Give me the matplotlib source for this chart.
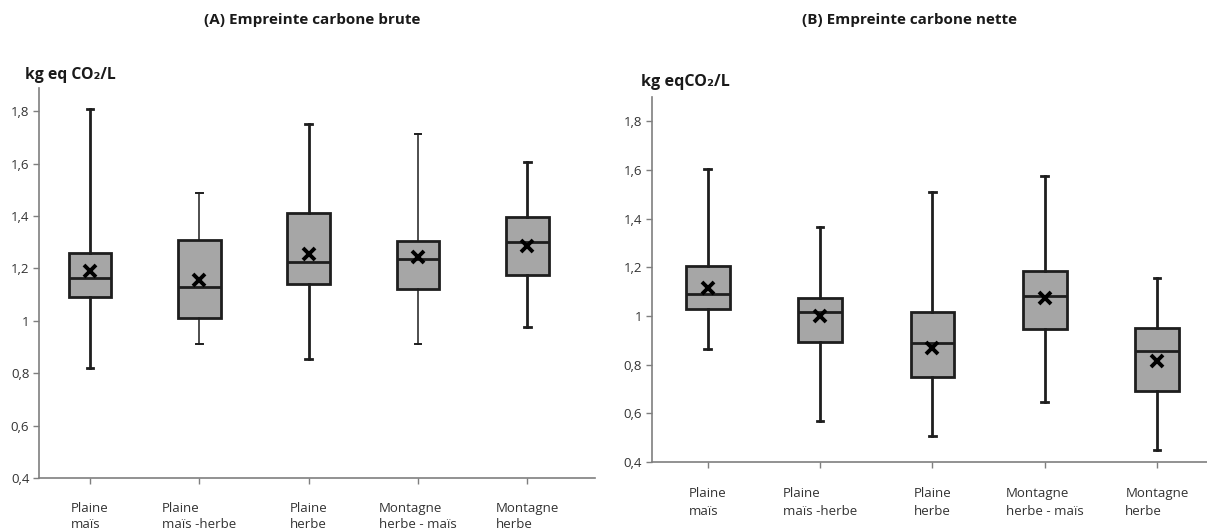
import matplotlib
matplotlib.use("Agg")
import matplotlib.pyplot as plt
from matplotlib.ticker import FuncFormatter

plt.rcParams['font.family'] = ['Open Sans', 'DejaVu Sans']

categories = ["Plaine\nmaïs", "Plaine\nmaïs -herbe", "Plaine\nherbe",
              "Montagne\nherbe - maïs", "Montagne\nherbe"]

# (A) Empreinte carbone brute
brute_whislo = [0.82, 0.91, 0.855, 0.91, 0.975]
brute_q1 = [1.09, 1.01, 1.14, 1.12, 1.175]
brute_med = [1.165, 1.13, 1.225, 1.235, 1.30]
brute_q3 = [1.26, 1.31, 1.41, 1.305, 1.395]
brute_whishi = [1.81, 1.49, 1.75, 1.715, 1.605]
brute_mean = [1.19, 1.155, 1.255, 1.245, 1.285]

# (B) Empreinte carbone nette
nette_whislo = [0.865, 0.57, 0.505, 0.645, 0.45]
nette_q1 = [1.03, 0.895, 0.75, 0.945, 0.69]
nette_med = [1.09, 1.015, 0.89, 1.08, 0.855]
nette_q3 = [1.205, 1.075, 1.015, 1.185, 0.95]
nette_whishi = [1.605, 1.365, 1.51, 1.575, 1.155]
nette_mean = [1.115, 1.0, 0.868, 1.072, 0.815]

yticks = [0.4, 0.6, 0.8, 1.0, 1.2, 1.4, 1.6, 1.8]

def fmt(v, pos):
    s = ("%.1f" % v).rstrip('0').rstrip('.')
    return s.replace('.', ',')

def make_stats(lo, q1, med, q3, hi, mean):
    return [dict(whislo=a, q1=b, med=c, q3=d, whishi=e, mean=f, fliers=[])
            for a, b, c, d, e, f in zip(lo, q1, med, q3, hi, mean)]

fig = plt.figure(figsize=(12.07, 5.31), dpi=100)

axA = fig.add_axes([0.0323, 0.0998, 0.4607, 0.734])
axB = fig.add_axes([0.540, 0.130, 0.460, 0.687])

edge = '#1e1e1e'
axis_col = '#7f7f7f'

def draw(ax, stats, xlim, ylim, thin_whiskers=(), pad=14, linespacing=1.45):
    positions = list(range(1, len(stats) + 1))
    bp = ax.bxp(stats, positions=positions, widths=0.39, patch_artist=True,
                showmeans=True, showfliers=False, capwidths=0.06,
                boxprops=dict(facecolor='#a6a6a6', edgecolor=edge, linewidth=2),
                medianprops=dict(color=edge, linewidth=2),
                whiskerprops=dict(color=edge, linewidth=2),
                capprops=dict(color=edge, linewidth=2),
                meanprops=dict(marker='x', markeredgecolor='black',
                               markersize=8, markeredgewidth=2.8))
    for i in thin_whiskers:
        bp['whiskers'][2 * i].set_linewidth(1.1)
        bp['whiskers'][2 * i + 1].set_linewidth(1.1)
        bp['caps'][2 * i].set_linewidth(1.4)
        bp['caps'][2 * i + 1].set_linewidth(1.4)
    ax.set_xlim(*xlim)
    ax.set_ylim(*ylim)
    ax.set_xticks(positions)
    ax.set_xticklabels(categories, fontsize=9.5, color='#333333',
                       multialignment='left', linespacing=linespacing)
    ax.set_yticks(yticks)
    ax.yaxis.set_major_formatter(FuncFormatter(fmt))
    for lab in ax.get_yticklabels():
        lab.set_fontsize(9.5)
        lab.set_color('#333333')
    for s in ['top', 'right']:
        ax.spines[s].set_visible(False)
    for s in ['left', 'bottom']:
        ax.spines[s].set_color(axis_col)
        ax.spines[s].set_linewidth(1.2)
    ax.tick_params(axis='both', direction='out', color=axis_col, length=4, width=1)
    ax.tick_params(axis='x', pad=pad)
    ax.tick_params(axis='y', pad=3)
    ax.set_facecolor('white')

draw(axA, make_stats(brute_whislo, brute_q1, brute_med, brute_q3, brute_whishi, brute_mean),
     (0.533, 5.62), (0.4, 1.888), thin_whiskers=(1, 3), pad=13, linespacing=1.3)
draw(axB, make_stats(nette_whislo, nette_q1, nette_med, nette_q3, nette_whishi, nette_mean),
     (0.501, 5.445), (0.4, 1.899), pad=14, linespacing=1.5)

fig.text(312 / 1207, 1 - 20 / 531, "(A) Empreinte carbone brute", ha='center', va='center',
         fontsize=11, fontweight='bold', color='#1a1a1a')
fig.text(910 / 1207, 1 - 20 / 531, "(B) Empreinte carbone nette", ha='center', va='center',
         fontsize=11, fontweight='bold', color='#1a1a1a')

fig.text(25 / 1207, 1 - 75 / 531, "kg eq CO₂/L", ha='left', va='center',
         fontsize=11.3, fontweight='bold', color='#1a1a1a')
fig.text(641 / 1207, 1 - 82 / 531, "kg eqCO₂/L", ha='left', va='center',
         fontsize=11.6, fontweight='bold', color='#1a1a1a')

fig.savefig("out.png", dpi=100, facecolor='white')
